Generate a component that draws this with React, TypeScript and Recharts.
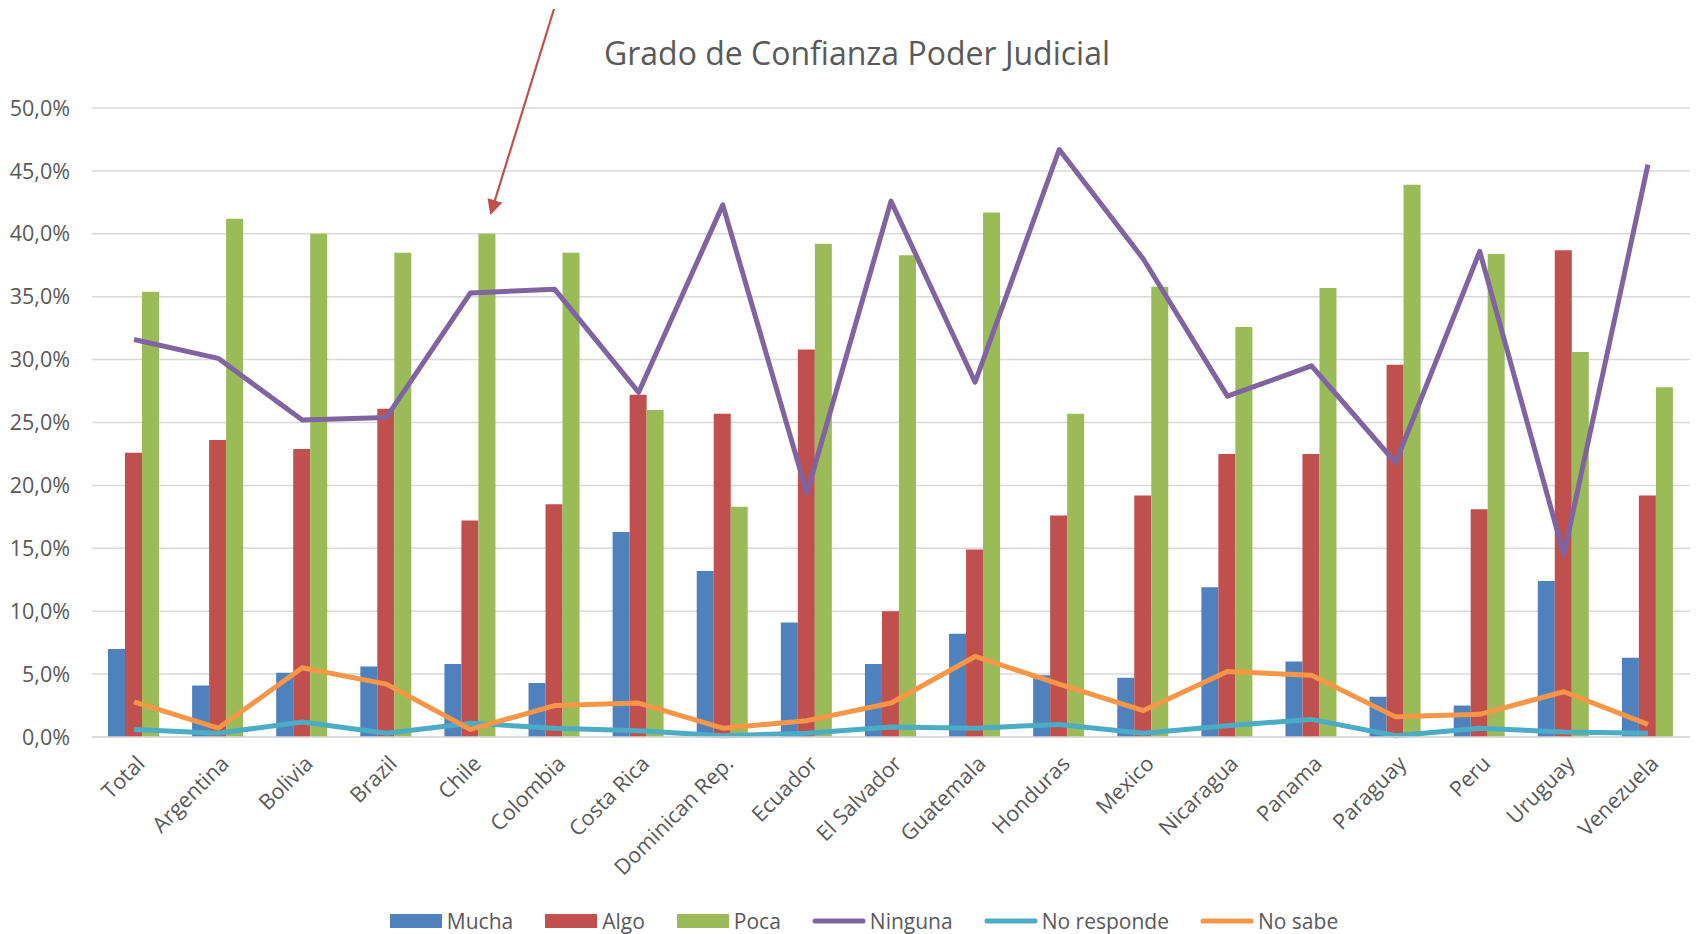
import {
  ComposedChart,
  Bar,
  Line,
  XAxis,
  YAxis,
  CartesianGrid,
  Legend,
} from "recharts";

const countries = [
  "Total", "Argentina", "Bolivia", "Brazil", "Chile", "Colombia", "Costa Rica",
  "Dominican Rep.", "Ecuador", "El Salvador", "Guatemala", "Honduras", "Mexico",
  "Nicaragua", "Panama", "Paraguay", "Peru", "Uruguay", "Venezuela",
];

const mucha = [7.0, 4.1, 5.1, 5.6, 5.8, 4.3, 16.3, 13.2, 9.1, 5.8, 8.2, 4.9, 4.7, 11.9, 6.0, 3.2, 2.5, 12.4, 6.3];
const algo = [22.6, 23.6, 22.9, 26.1, 17.2, 18.5, 27.2, 25.7, 30.8, 10.0, 14.9, 17.6, 19.2, 22.5, 22.5, 29.6, 18.1, 38.7, 19.2];
const poca = [35.4, 41.2, 40.0, 38.5, 40.0, 38.5, 26.0, 18.3, 39.2, 38.3, 41.7, 25.7, 35.8, 32.6, 35.7, 43.9, 38.4, 30.6, 27.8];
const ninguna = [31.6, 30.1, 25.2, 25.4, 35.3, 35.6, 27.4, 42.3, 19.4, 42.6, 28.2, 46.7, 38.0, 27.1, 29.5, 21.8, 38.6, 14.5, 45.5];
const noResponde = [0.6, 0.3, 1.2, 0.3, 1.1, 0.7, 0.5, 0.1, 0.3, 0.8, 0.7, 1.0, 0.3, 0.9, 1.4, 0.1, 0.7, 0.4, 0.3];
const noSabe = [2.8, 0.7, 5.5, 4.2, 0.6, 2.5, 2.7, 0.7, 1.3, 2.7, 6.4, 4.2, 2.1, 5.2, 4.9, 1.6, 1.8, 3.6, 1.0];

const yTicks = [0, 5, 10, 15, 20, 25, 30, 35, 40, 45, 50];

const data = countries.map((name, i) => ({
  name,
  mucha: mucha[i],
  algo: algo[i],
  poca: poca[i],
  ninguna: ninguna[i],
  noResponde: noResponde[i],
  noSabe: noSabe[i],
}));

const FONT = "'Open Sans', sans-serif";
const TEXT = "#595959";

const legendItems = [
  { label: "Mucha", color: "#4F81BD", kind: "bar" },
  { label: "Algo", color: "#C0504D", kind: "bar" },
  { label: "Poca", color: "#9BBB59", kind: "bar" },
  { label: "Ninguna", color: "#8064A2", kind: "line" },
  { label: "No responde", color: "#4BACC6", kind: "line" },
  { label: "No sabe", color: "#F79646", kind: "line" },
];

const fmtPct = (v: number) => v.toFixed(1).replace(".", ",") + "%";

function CountryTick({ x, y, payload }: any) {
  return (
    <text
      x={x + 6}
      y={y + 14}
      transform={`rotate(-45, ${x + 6}, ${y + 14})`}
      textAnchor="end"
      dominantBaseline="central"
      fill={TEXT}
      fontSize={21.5}
      fontFamily={FONT}
    >
      {payload.value}
    </text>
  );
}

function ChartLegend() {
  return (
    <div
      style={{
        display: "flex",
        justifyContent: "center",
        alignItems: "center",
        height: 30,
        fontFamily: FONT,
        fontSize: 21,
        color: TEXT,
        paddingLeft: 68,
        marginTop: 2,
      }}
    >
      {legendItems.map((it) => (
        <div key={it.label} style={{ display: "flex", alignItems: "center", marginRight: 31 }}>
          <svg width={54} height={16} style={{ marginRight: 4 }}>
            {it.kind === "bar" ? (
              <rect x={1} y={1} width={52} height={14} fill={it.color} />
            ) : (
              <line x1={3} y1={8} x2={51} y2={8} stroke={it.color} strokeWidth={5} strokeLinecap="round" />
            )}
          </svg>
          <span>{it.label}</span>
        </div>
      ))}
    </div>
  );
}

export default function App() {
  return (
    <div style={{ position: "absolute", left: 0, top: 0, width: 1696, height: 934, background: "#fff" }}>
      <div
        style={{
          position: "absolute",
          top: 31,
          left: 0,
          width: 1714,
          textAlign: "center",
          fontFamily: FONT,
          fontSize: 32,
          color: TEXT,
        }}
      >
        Grado de Confianza Poder Judicial
      </div>
      <ComposedChart
        width={1696}
        height={934}
        data={data}
        margin={{ top: 108, right: 6, left: 0, bottom: 0 }}
        barCategoryGap={16}
        barGap={0}
      >
        <CartesianGrid vertical={false} stroke="#D9D9D9" strokeWidth={1.5} />
        <XAxis
          dataKey="name"
          interval={0}
          height={167}
          tickLine={false}
          axisLine={{ stroke: "#D9D9D9", strokeWidth: 1.5 }}
          tick={<CountryTick />}
        />
        <YAxis
          width={92}
          domain={[0, 50]}
          ticks={yTicks}
          tickFormatter={fmtPct}
          tickLine={false}
          axisLine={false}
          tickSize={0}
          tickMargin={22}
          tick={{ fill: TEXT, fontSize: 21.5, fontFamily: FONT }}
        />
        <Legend verticalAlign="bottom" height={30} content={<ChartLegend />} />
        <Bar dataKey="mucha" name="Mucha" fill="#4F81BD" isAnimationActive={false} />
        <Bar dataKey="algo" name="Algo" fill="#C0504D" isAnimationActive={false} />
        <Bar dataKey="poca" name="Poca" fill="#9BBB59" isAnimationActive={false} />
        <Line dataKey="ninguna" name="Ninguna" stroke="#8064A2" strokeWidth={5} dot={false} strokeLinejoin="round" isAnimationActive={false} />
        <Line dataKey="noResponde" name="No responde" stroke="#4BACC6" strokeWidth={5} dot={false} strokeLinejoin="round" isAnimationActive={false} />
        <Line dataKey="noSabe" name="No sabe" stroke="#F79646" strokeWidth={5} dot={false} strokeLinejoin="round" isAnimationActive={false} />
      </ComposedChart>
      <svg
        width={1696}
        height={934}
        style={{ position: "absolute", left: 0, top: 0, pointerEvents: "none" }}
      >
        <defs>
          <marker id="arrowHead" markerWidth="7" markerHeight="7" refX="6" refY="3.5" orient="auto" markerUnits="strokeWidth">
            <path d="M0,0 L7,3.5 L0,7 Z" fill="#C0504D" />
          </marker>
        </defs>
        <line x1={554} y1={9} x2={491} y2={213} stroke="#C0504D" strokeWidth={2.2} markerEnd="url(#arrowHead)" />
      </svg>
    </div>
  );
}
